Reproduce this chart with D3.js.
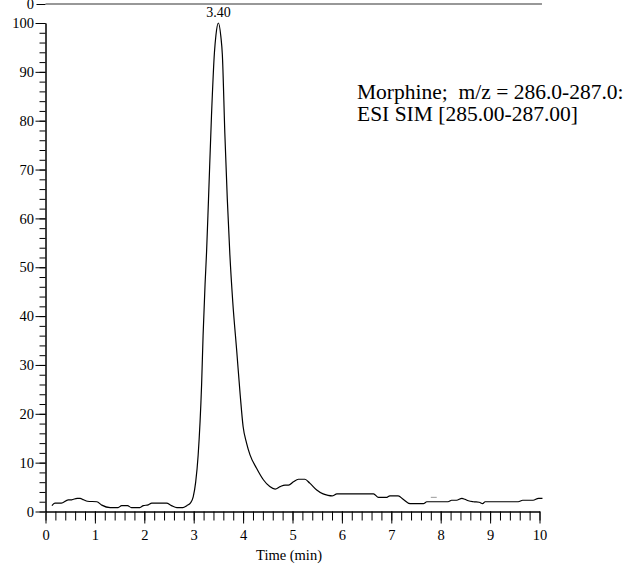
<!DOCTYPE html>
<html>
<head>
<meta charset="utf-8">
<script src="https://cdn.jsdelivr.net/npm/d3@7"></script>
<style>
  body { margin: 0; background: #fff; }
  svg { display: block; }
</style>
</head>
<body>
<div class="grafico"></div>
<script>
// retention time (min) and relative abundance (%)
var tiempos = [0.13, 0.19, 0.32, 0.46, 0.53, 0.64, 0.70, 0.77, 0.85, 1.04,
  1.14, 1.31, 1.47, 1.54, 1.66, 1.74, 1.91, 1.98, 2.08, 2.15,
  2.45, 2.55, 2.66, 2.78, 2.86, 2.94, 2.99, 3.04, 3.09, 3.16,
  3.19, 3.23, 3.26, 3.30, 3.36, 3.42, 3.45, 3.50, 3.55, 3.58,
  3.63, 3.68, 3.73, 3.79, 3.87, 3.94, 4.00, 4.07, 4.14, 4.27,
  4.41, 4.54, 4.65, 4.75, 4.85, 4.92, 5.02, 5.12, 5.25, 5.35,
  5.49, 5.62, 5.72, 5.80, 5.90, 6.64, 6.74, 6.91, 6.97, 7.14,
  7.24, 7.38, 7.65, 7.72, 8.15, 8.22, 8.32, 8.43, 8.49, 8.56,
  8.66, 8.78, 8.85, 8.90, 9.57, 9.66, 9.87, 9.98, 10.06];
var abundancia = [1.2, 1.7, 1.7, 2.4, 2.4, 2.7, 2.7, 2.4, 2.1, 2.0,
  1.3, 0.8, 0.8, 1.2, 1.2, 0.8, 0.8, 1.2, 1.35, 1.7,
  1.7, 1.2, 0.8, 0.8, 1.2, 1.8, 3.0, 6.0, 11.5, 26,
  36, 46.5, 53, 64, 81, 94, 97.5, 100, 97.2, 93.5,
  77.5, 64, 53, 43, 33, 24, 17.4, 14, 11.6, 8.9,
  6.5, 5.1, 4.6, 5.1, 5.4, 5.4, 6.1, 6.6, 6.6, 5.8,
  4.4, 3.6, 3.3, 3.2, 3.6, 3.6, 2.9, 2.9, 3.2, 3.2,
  2.5, 1.6, 1.6, 2.0, 2.0, 2.3, 2.3, 2.7, 2.5, 2.2,
  2.0, 1.9, 1.6, 2.0, 2.0, 2.3, 2.3, 2.7, 2.7];

var picoTiempo = 3.50;
var picoEtiqueta = "3.40";
var marcaGris = [[7.80, 2.9], [7.92, 2.9]];

var xMayores = [0, 1, 2, 3, 4, 5, 6, 7, 8, 9, 10];
var yMayores = [0, 10, 20, 30, 40, 50, 60, 70, 80, 90, 100];
var panelSuperior = [0, 10.05];

var titulo1 = "Morphine;  m/z = 286.0-287.0:";
var titulo2 = "ESI SIM [285.00-287.00]";
var tituloX = "Time (min)";

var fuente = "Liberation Serif, Times New Roman, serif";

var ancho = 629, alto = 565;
var x0 = 45.5, x1 = 539.5, y0 = 511.5, y1 = 23;

var svg = d3.select('.grafico').append('svg')
  .attr('width', ancho)
  .attr('height', alto);

var xScale = d3.scaleLinear().domain([0, 10]).range([x0, x1]);
var yScale = d3.scaleLinear().domain([0, 100]).range([y0, y1]);

function estiloEje(g) {
  g.attr('font-family', fuente).attr('font-size', 14.5);
  g.selectAll('text').style('font-family', fuente).style('font-size', '14.5px').attr('fill', '#000');
  g.selectAll('.domain, .tick line').attr('stroke', '#000');
}

// minor ticks first, then the labelled ones
svg.append('g')
  .attr('transform', 'translate(0,' + y0 + ')')
  .call(d3.axisBottom(xScale).tickValues(d3.range(0, 10.01, 0.2)).tickSize(9).tickFormat('').tickSizeOuter(0))
  .call(estiloEje);
svg.append('g')
  .attr('transform', 'translate(0,' + y0 + ')')
  .call(d3.axisBottom(xScale).tickValues(xMayores).tickSize(12).tickPadding(6.5).tickSizeOuter(0).tickFormat(d3.format('d')))
  .call(estiloEje);

svg.append('g')
  .attr('transform', 'translate(' + x0 + ',0)')
  .call(d3.axisLeft(yScale).tickValues(d3.range(0, 100.01, 2)).tickSize(6).tickFormat('').tickSizeOuter(0))
  .call(estiloEje);
svg.append('g')
  .attr('transform', 'translate(' + x0 + ',0)')
  .call(d3.axisLeft(yScale).tickValues(yMayores).tickSize(10).tickPadding(1.5).tickSizeOuter(0).tickFormat(d3.format('d')))
  .call(estiloEje);

// bottom edge of the panel above, cut by the page
var yTop = d3.scaleLinear().domain([0, 1]).range([4, -40]);
var ejeTop = svg.append('g')
  .attr('transform', 'translate(' + x0 + ',0)')
  .call(d3.axisLeft(yTop).tickValues([0]).tickSize(9).tickPadding(2.5).tickSizeOuter(0).tickFormat(d3.format('d')))
  .call(estiloEje);
ejeTop.select('.domain').remove();
svg.append('line')
  .attr('x1', xScale(panelSuperior[0]))
  .attr('x2', xScale(panelSuperior[1]))
  .attr('y1', yTop(0))
  .attr('y2', yTop(0))
  .attr('stroke', '#333')
  .attr('stroke-width', 1.2);

var puntos = tiempos.map(function (t, i) { return [t, abundancia[i]]; });

var linea = d3.line()
  .x(function (d) { return xScale(d[0]); })
  .y(function (d) { return yScale(d[1]); })
  .curve(d3.curveMonotoneX);

svg.append('path')
  .datum(puntos)
  .attr('d', linea)
  .attr('fill', 'none')
  .attr('stroke', '#000')
  .attr('stroke-width', 1.2);

svg.append('path')
  .datum(marcaGris)
  .attr('d', d3.line().x(function (d) { return xScale(d[0]); }).y(function (d) { return yScale(d[1]); }))
  .attr('stroke', '#999')
  .attr('stroke-width', 1);

svg.append('text')
  .attr('x', xScale(picoTiempo))
  .attr('y', yScale(100) - 6)
  .attr('text-anchor', 'middle')
  .style('font-family', fuente)
  .style('font-size', '14px')
  .text(picoEtiqueta);

svg.append('text')
  .attr('x', 357)
  .attr('y', 99)
  .style('font-family', fuente)
  .style('font-size', '21.5px')
  .style('white-space', 'pre')
  .text(titulo1);
svg.append('text')
  .attr('x', 357)
  .attr('y', 121)
  .style('font-family', fuente)
  .style('font-size', '21.5px')
  .text(titulo2);

svg.append('text')
  .attr('x', 289)
  .attr('y', 560)
  .attr('text-anchor', 'middle')
  .style('font-family', fuente)
  .style('font-size', '14.5px')
  .text(tituloX);
</script>
</body>
</html>
